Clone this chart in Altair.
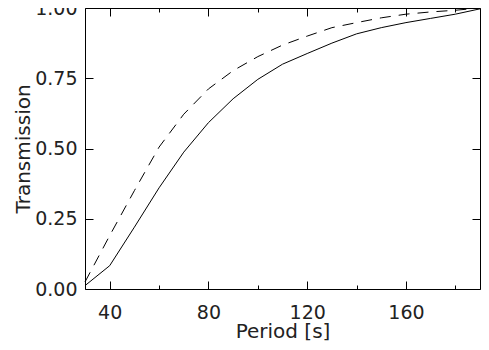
import altair as alt
import pandas as pd

# Data
period = [30, 40, 50, 60, 70, 80, 90, 100, 110, 120, 130, 140, 150, 160, 170, 180, 190]
solid = [0.012, 0.083, 0.22, 0.36, 0.487, 0.592, 0.677, 0.746, 0.80, 0.838,
         0.875, 0.908, 0.93, 0.948, 0.963, 0.978, 0.997]
dashed = [0.025, 0.19, 0.35, 0.505, 0.622, 0.712, 0.777, 0.827, 0.868, 0.90,
          0.93, 0.948, 0.965, 0.978, 0.986, 0.992, 1.0]

x_major = [40, 80, 120, 160]
x_minor = [60, 100, 140, 180]
y_ticks = [0.0, 0.25, 0.5, 0.75, 1.0]

df = pd.DataFrame({"period": period, "solid": solid, "dashed": dashed})

W, H = 395, 281
FONT = "DejaVu Sans"
TEXT = "#222222"
xscale = alt.Scale(domain=[30, 190], nice=False, zero=False)
yscale = alt.Scale(domain=[0, 1], nice=False)


def tick_axis(orient, values, size, offset):
    return alt.Axis(orient=orient, values=values, tickSize=size, offset=offset,
                    labels=False, domain=False, grid=False, title=None,
                    tickColor="black", tickWidth=1)


x_main = alt.Axis(orient="bottom", values=x_major, ticks=False, tickSize=0,
                  domain=False, grid=False, labelPadding=14, labelFontSize=19,
                  title="Period [s]", titleFontSize=20, titlePadding=-1)
y_main = alt.Axis(orient="left", values=y_ticks, format=".2f", ticks=False,
                  tickSize=0, domain=False, grid=False, labelPadding=8,
                  labelFontSize=19, title="Transmission", titleFontSize=20,
                  titlePadding=1)

base = alt.Chart(df)

l1 = base.mark_line(color="black", strokeWidth=1).encode(
    x=alt.X("period:Q", scale=xscale, axis=x_main),
    y=alt.Y("solid:Q", scale=yscale, axis=y_main),
)
l2 = base.mark_line(color="black", strokeWidth=1, strokeDash=[11, 8]).encode(
    x=alt.X("period:Q", scale=xscale, axis=tick_axis("top", x_major, 8, -H)),
    y=alt.Y("dashed:Q", scale=yscale, axis=tick_axis("right", y_ticks, 8, -W)),
)
l3 = base.mark_line(strokeOpacity=0).encode(
    x=alt.X("period:Q", scale=xscale, axis=tick_axis("top", x_minor, 4, -H)),
    y=alt.Y("solid:Q", scale=yscale, axis=tick_axis("left", y_ticks, 8, -W)),
)
l4 = base.mark_line(strokeOpacity=0).encode(
    x=alt.X("period:Q", scale=xscale, axis=tick_axis("bottom", x_major, 8, -H)),
    y=alt.Y("solid:Q", scale=yscale, axis=None),
)
l5 = base.mark_line(strokeOpacity=0).encode(
    x=alt.X("period:Q", scale=xscale, axis=tick_axis("bottom", x_minor, 4, -H)),
    y=alt.Y("solid:Q", scale=yscale, axis=None),
)

chart = (
    alt.layer(l1, l2, l3, l4, l5)
    .resolve_axis(x="independent", y="independent")
    .properties(
        width=W,
        height=H,
        autosize=alt.AutoSizeParams(type="none"),
        padding={"left": 77, "top": 0, "right": 1, "bottom": 52},
    )
    .configure(font=FONT)
    .configure_view(stroke="black", strokeWidth=1)
    .configure_axis(labelFont=FONT, titleFont=FONT, labelColor=TEXT,
                    titleColor=TEXT, labelFontWeight="normal",
                    titleFontWeight="normal")
)

chart.save("out.html", embed_options={"renderer": "svg", "actions": False})
